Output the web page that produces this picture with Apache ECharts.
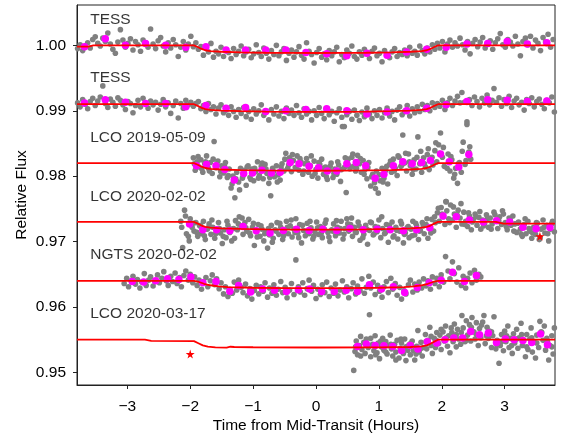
<!DOCTYPE html>
<html><head><meta charset="utf-8">
<script src="https://cdn.jsdelivr.net/npm/echarts@6/dist/echarts.min.js"></script>
<style>html,body{margin:0;padding:0;background:#fff}#c{width:563px;height:436px}</style>
</head><body><div id="c"></div>
<script>
const xTicks = [-3,-2,-1,0,1,2,3];
const yTicks = [0.95,0.96,0.97,0.98,0.99,1.00];
const xRange = [-3.8, 3.8];
const yRange = [0.94807, 1.00617];

const labelNames = ['TESS','TESS','LCO 2019-05-09','LCO 2020-02-02','NGTS 2020-02-02','LCO 2020-03-17'];
const labelT = [-3.59,-3.59,-3.59,-3.59,-3.59,-3.59];
const labelF = [1.00388,0.99502,0.98585,0.97684,0.96798,0.95897];

const starT = [-2.0, 3.56];
const starF = [0.9528, 0.9708];

// model curves
const tess1ModelT = [-3.8,-3.62,-3.54,-1.94,-1.88,-1.82,-1.76,-1.68,-1.5,-1.2,-0.8,-0.4,0,0.4,0.8,1.2,1.5,1.68,1.76,1.82,1.88,1.94,3.8];
const tess1ModelF = [0.9998,0.9998,1.0000,1.0000,0.99975,0.99945,0.99925,0.99912,0.99902,0.99893,0.99887,0.99884,0.99883,0.99884,0.99887,0.99893,0.99902,0.99912,0.99925,0.99945,0.99975,1.0000,1.0000];
const tess2ModelT = [-3.8,-1.94,-1.88,-1.82,-1.76,-1.68,-1.5,-1.2,-0.8,-0.4,0,0.4,0.8,1.2,1.5,1.68,1.76,1.82,1.88,1.94,3.8];
const tess2ModelF = [0.9910,0.9910,0.99075,0.99045,0.99025,0.99012,0.99002,0.98993,0.98987,0.98984,0.98983,0.98984,0.98987,0.98993,0.99002,0.99012,0.99025,0.99045,0.99075,0.9910,0.9910];
const lco19ModelT = [-3.8,-1.94,-1.88,-1.82,-1.76,-1.68,-1.5,-1.2,-0.8,-0.4,0,0.4,0.8,1.2,1.5,1.68,1.76,1.82,1.88,1.94,3.8];
const lco19ModelF = [0.9820,0.9820,0.98175,0.98145,0.98125,0.98112,0.98102,0.98093,0.98087,0.98084,0.98083,0.98084,0.98087,0.98093,0.98102,0.98112,0.98125,0.98145,0.98175,0.9820,0.9820];
const lco20ModelT = [-3.8,-1.94,-1.88,-1.82,-1.76,-1.68,-1.5,-1.2,-0.8,-0.4,0,0.4,0.8,1.2,1.5,1.68,1.76,1.82,1.88,1.94,2.86,2.98,3.8];
const lco20ModelF = [0.9730,0.9730,0.97275,0.97245,0.97225,0.97212,0.97202,0.97193,0.97187,0.97184,0.97183,0.97184,0.97187,0.97193,0.97202,0.97212,0.97225,0.97245,0.97275,0.9730,0.9730,0.97275,0.97275];
const ngtsModelT = [-3.8,-1.94,-1.86,-1.78,-1.68,-1.55,-1.4,-1.0,-0.5,0,0.5,1.0,1.4,1.55,1.68,1.78,1.86,1.94,3.8];
const ngtsModelF = [0.9640,0.9640,0.96382,0.96355,0.96332,0.96314,0.96303,0.96294,0.96289,0.96288,0.96289,0.96294,0.96303,0.96314,0.96332,0.96355,0.96382,0.9640,0.9640];
const lco2003ModelT = [-3.8,-2.72,-2.62,-1.94,-1.87,-1.8,-1.72,-1.6,-1.42,-1.36,-1.3,-1.0,0,1.0,1.5,1.68,1.76,1.82,1.88,1.94,3.8];
const lco2003ModelF = [0.9550,0.9550,0.95482,0.95478,0.95445,0.95412,0.95393,0.95382,0.95377,0.95392,0.95388,0.95384,0.95380,0.95382,0.95388,0.95398,0.95412,0.95438,0.95470,0.9550,0.9550];

// binned points
const tess1BinT = [-3.68,-3.35,-3.03,-2.71,-2.39,-2.07,-1.75,-1.43,-1.12,-0.80,-0.48,-0.16,0.17,0.49,0.81,1.13,1.44,1.76,2.07,2.40,2.73,3.04,3.36,3.67];
const tess1BinF = [0.9998,1.0010,1.0000,1.0003,1.0000,0.9997,0.9998,0.9993,0.9993,0.9993,0.9993,0.9989,0.9987,0.9984,0.9988,0.9985,0.9990,0.9994,0.9997,1.0002,1.0003,1.0006,1.0002,1.0004];
const tess2BinT = [-3.68,-3.35,-3.03,-2.71,-2.39,-2.07,-1.75,-1.43,-1.12,-0.80,-0.48,-0.16,0.17,0.49,0.81,1.13,1.44,1.76,2.07,2.40,2.73,3.04,3.36,3.67];
const tess2BinF = [0.9912,0.9917,0.9913,0.9911,0.9911,0.9906,0.9908,0.9904,0.9905,0.9899,0.9900,0.9902,0.9903,0.9900,0.9895,0.9898,0.9900,0.9904,0.9909,0.9914,0.9917,0.9916,0.9914,0.9915];
const lco19BinT = [-1.90,-1.74,-1.59,-1.45,-1.30,-1.15,-1.01,-0.86,-0.71,-0.57,-0.41,-0.27,-0.11,0.04,0.18,0.33,0.49,0.64,0.79,0.94,1.08,1.23,1.38,1.53,1.68,1.82,1.98,2.12,2.27,2.43];
const lco19BinF = [0.9816,0.9818,0.9816,0.9810,0.9794,0.9804,0.9805,0.9809,0.9805,0.9806,0.9821,0.9819,0.9815,0.9813,0.9808,0.9808,0.9819,0.9821,0.9816,0.9797,0.9803,0.9816,0.9822,0.9819,0.9821,0.9824,0.9834,0.9822,0.9814,0.9833];
const lco20BinT = [-2.01,-1.80,-1.58,-1.37,-1.16,-0.95,-0.73,-0.52,-0.31,-0.11,0.11,0.33,0.54,0.75,0.97,1.18,1.39,1.60,1.81,2.02,2.23,2.44,2.66,2.87,3.08,3.29,3.50,3.72];
const lco20BinF = [0.9727,0.9718,0.9718,0.97165,0.9723,0.97165,0.9713,0.9717,0.9719,0.9717,0.9719,0.9717,0.9720,0.9718,0.9719,0.9718,0.97165,0.9718,0.9721,0.9739,0.9738,0.9733,0.9730,0.9732,0.9730,0.9722,0.97195,0.97215];
const ngtsBinT = [-2.92,-2.74,-2.55,-2.36,-2.18,-1.99,-1.80,-1.59,-1.37,-1.23,-1.04,-0.85,-0.66,-0.47,-0.28,-0.10,0.09,0.29,0.48,0.66,0.85,1.04,1.23,1.41,1.61,1.80,1.99,2.17,2.36,2.55];
const ngtsBinF = [0.9639,0.9638,0.9640,0.9643,0.9642,0.9646,0.9637,0.9639,0.9624,0.9633,0.9623,0.96275,0.96254,0.96238,0.96264,0.96275,0.96238,0.96238,0.96254,0.96238,0.96341,0.96275,0.96310,0.96223,0.96299,0.9637,0.9641,0.9653,0.9639,0.9648];
const lco2003BinT = [0.66,0.80,0.94,1.08,1.22,1.36,1.50,1.62,1.77,1.92,2.05,2.19,2.33,2.46,2.60,2.74,2.87,3.01,3.15,3.29,3.43,3.57,3.68];
const lco2003BinF = [0.95397,0.95434,0.95412,0.95408,0.95397,0.95336,0.95412,0.95357,0.95469,0.95449,0.95500,0.95526,0.95526,0.95626,0.95576,0.95602,0.95458,0.95510,0.95500,0.95489,0.95458,0.95587,0.95423];

// raw photometry (grey)
const tess1Gray = [[-3.79,0.9995],[-3.75,1.0001],[-3.71,0.9992],[-3.67,0.9998],[-3.63,1.0004],[-3.59,0.9996],[-3.55,1.0009],[-3.51,1.0013],[-3.47,1.0003],[-3.43,0.9999],[-3.39,1.0011],[-3.35,1.0006],[-3.31,1.0019],[-3.27,1.0002],[-3.23,0.9994],[-3.19,0.9988],[-3.15,1.0005],[-3.11,1.0024],[-3.07,1.0008],[-3.03,0.9997],[-2.99,1.0003],[-2.95,1.0010],[-2.91,0.9993],[-2.87,1.0006],[-2.83,1.0001],[-2.79,0.9991],[-2.75,1.0008],[-2.71,1.0004],[-2.67,0.9997],[-2.63,1.0025],[-2.59,1.0002],[-2.55,0.9995],[-2.51,1.0007],[-2.47,1.0012],[-2.43,0.9999],[-2.39,0.9990],[-2.35,1.0004],[-2.31,0.9996],[-2.27,1.0009],[-2.23,1.0001],[-2.19,0.9983],[-2.15,0.9997],[-2.11,1.0006],[-2.07,0.9993],[-2.03,1.0002],[-1.99,1.0014],[-1.95,0.9998],[-1.91,1.0004],[-1.87,0.9994],[-1.83,0.9998],[-1.79,0.9985],[-1.75,0.9996],[-1.71,0.9990],[-1.67,1.0003],[-1.63,0.9982],[-1.59,0.9991],[-1.55,0.9987],[-1.51,0.9997],[-1.47,0.9983],[-1.43,0.9992],[-1.39,0.9989],[-1.35,0.9980],[-1.31,0.9995],[-1.27,0.9986],[-1.23,0.9991],[-1.19,0.9999],[-1.15,0.9984],[-1.11,0.9990],[-1.07,0.9994],[-1.03,0.9981],[-0.99,0.9987],[-0.95,1.0001],[-0.91,0.9989],[-0.87,0.9983],[-0.83,0.9996],[-0.79,0.9988],[-0.75,0.9979],[-0.71,0.9992],[-0.67,0.9986],[-0.63,1.0000],[-0.59,0.9984],[-0.55,0.9990],[-0.51,0.9995],[-0.47,0.9977],[-0.43,0.9988],[-0.39,0.9993],[-0.35,0.9982],[-0.31,0.9990],[-0.27,0.9998],[-0.23,0.9985],[-0.19,0.9979],[-0.15,1.0004],[-0.11,0.9991],[-0.07,0.9986],[-0.03,0.9973],[0.01,0.9989],[0.05,0.9995],[0.09,0.9982],[0.13,0.9987],[0.17,0.9978],[0.21,0.9992],[0.25,0.9984],[0.29,0.9990],[0.33,0.9997],[0.37,0.9975],[0.41,0.9986],[0.45,0.9981],[0.49,0.9993],[0.53,0.9988],[0.57,0.9999],[0.61,0.9983],[0.65,0.9979],[0.69,0.9990],[0.73,0.9985],[0.77,0.9994],[0.81,0.9987],[0.85,0.9980],[0.89,0.9991],[0.93,0.9996],[0.97,0.9984],[1.01,0.9988],[1.05,0.9975],[1.09,0.9992],[1.13,0.9986],[1.17,0.9981],[1.21,0.9990],[1.25,0.9995],[1.29,0.9983],[1.33,0.9989],[1.37,0.9986],[1.41,0.9993],[1.45,0.9984],[1.49,0.9997],[1.53,0.9988],[1.57,0.9991],[1.61,0.9985],[1.65,0.9999],[1.69,0.9992],[1.73,0.9987],[1.77,0.9996],[1.81,0.9990],[1.85,1.0001],[1.89,0.9994],[1.93,1.0003],[1.97,0.9996],[2.01,1.0006],[2.05,0.9990],[2.09,1.0002],[2.13,1.0008],[2.17,0.9997],[2.21,1.0004],[2.25,0.9999],[2.29,1.0011],[2.33,1.0001],[2.37,0.9993],[2.41,1.0006],[2.45,0.9987],[2.49,1.0003],[2.53,1.0009],[2.57,0.9998],[2.61,1.0005],[2.65,1.0012],[2.69,0.9996],[2.73,1.0002],[2.77,1.0007],[2.81,0.9994],[2.85,1.0004],[2.89,1.0010],[2.93,1.0018],[2.97,1.0001],[3.01,0.9997],[3.05,1.0009],[3.09,1.0005],[3.13,0.9999],[3.17,1.0014],[3.21,1.0002],[3.25,0.9984],[3.29,1.0006],[3.33,1.0011],[3.37,1.0001],[3.41,1.0014],[3.45,0.9996],[3.49,1.0008],[3.53,1.0003],[3.57,0.9992],[3.61,1.0012],[3.65,1.0005],[3.69,1.0017],[3.73,0.9997],[3.77,1.0009]];
const tess2Gray = [[-3.79,0.9912],[-3.75,0.9906],[-3.71,0.9917],[-3.67,0.9910],[-3.63,0.9903],[-3.59,0.9914],[-3.55,0.9919],[-3.51,0.9908],[-3.47,0.9915],[-3.43,0.9921],[-3.39,0.9938],[-3.35,0.9911],[-3.31,0.9905],[-3.27,0.9918],[-3.23,0.9913],[-3.19,0.9907],[-3.15,0.9920],[-3.11,0.9916],[-3.07,0.9909],[-3.03,0.9902],[-2.99,0.9914],[-2.95,0.9911],[-2.91,0.9897],[-2.87,0.9908],[-2.83,0.9916],[-2.79,0.9906],[-2.75,0.9919],[-2.71,0.9912],[-2.67,0.9904],[-2.63,0.9915],[-2.59,0.9909],[-2.55,0.9913],[-2.51,0.9901],[-2.47,0.9910],[-2.43,0.9917],[-2.39,0.9906],[-2.35,0.9912],[-2.31,0.9896],[-2.27,0.9908],[-2.23,0.9915],[-2.19,0.9889],[-2.15,0.9911],[-2.11,0.9904],[-2.07,0.9916],[-2.03,0.9909],[-1.99,0.9913],[-1.95,0.9907],[-1.91,0.9911],[-1.87,0.9914],[-1.83,0.9903],[-1.79,0.9908],[-1.75,0.9899],[-1.71,0.9911],[-1.67,0.9902],[-1.63,0.9906],[-1.59,0.9895],[-1.55,0.9904],[-1.51,0.9909],[-1.47,0.9897],[-1.43,0.9901],[-1.39,0.9893],[-1.35,0.9906],[-1.31,0.9899],[-1.27,0.9890],[-1.23,0.9902],[-1.19,0.9896],[-1.15,0.9905],[-1.11,0.9891],[-1.07,0.9899],[-1.03,0.9887],[-0.99,0.9903],[-0.95,0.9895],[-0.91,0.9900],[-0.87,0.9909],[-0.83,0.9893],[-0.79,0.9898],[-0.75,0.9886],[-0.71,0.9902],[-0.67,0.9895],[-0.63,0.9906],[-0.59,0.9892],[-0.55,0.9899],[-0.51,0.9888],[-0.47,0.9904],[-0.43,0.9896],[-0.39,0.9901],[-0.35,0.9893],[-0.31,0.9908],[-0.27,0.9897],[-0.23,0.9890],[-0.19,0.9903],[-0.15,0.9895],[-0.11,0.9899],[-0.07,0.9886],[-0.03,0.9900],[0.01,0.9893],[0.05,0.9905],[0.09,0.9896],[0.13,0.9888],[0.17,0.9902],[0.21,0.9894],[0.25,0.9899],[0.29,0.9884],[0.33,0.9897],[0.37,0.9903],[0.41,0.9890],[0.45,0.9876],[0.49,0.9894],[0.53,0.9899],[0.57,0.9887],[0.61,0.9901],[0.65,0.9893],[0.69,0.9885],[0.73,0.9898],[0.77,0.9891],[0.81,0.9904],[0.85,0.9895],[0.89,0.9888],[0.93,0.9900],[0.97,0.9893],[1.01,0.9902],[1.05,0.9889],[1.09,0.9897],[1.13,0.9904],[1.17,0.9892],[1.21,0.9899],[1.25,0.9886],[1.29,0.9901],[1.33,0.9906],[1.37,0.9894],[1.41,0.9899],[1.45,0.9908],[1.49,0.9892],[1.53,0.9903],[1.57,0.9897],[1.61,0.9906],[1.65,0.9899],[1.69,0.9910],[1.73,0.9902],[1.77,0.9908],[1.81,0.9900],[1.85,0.9912],[1.89,0.9905],[1.93,0.9911],[1.97,0.9907],[2.01,0.9916],[2.05,0.9902],[2.09,0.9912],[2.13,0.9919],[2.17,0.9908],[2.21,0.9915],[2.25,0.9922],[2.29,0.9912],[2.32,0.9928],[2.36,0.9913],[2.40,0.9883],[2.44,0.9917],[2.48,0.9908],[2.52,0.9921],[2.56,0.9914],[2.60,0.9906],[2.64,0.9919],[2.68,0.9912],[2.72,0.9924],[2.76,0.9909],[2.80,0.9916],[2.83,0.9934],[2.87,0.9913],[2.91,0.9920],[2.95,0.9907],[2.99,0.9917],[3.03,0.9911],[3.07,0.9922],[3.11,0.9905],[3.15,0.9915],[3.19,0.9919],[3.23,0.9909],[3.27,0.9913],[3.31,0.9901],[3.35,0.9917],[3.39,0.9911],[3.43,0.9920],[3.47,0.9906],[3.51,0.9914],[3.55,0.9918],[3.59,0.9910],[3.63,0.9903],[3.67,0.9916],[3.71,0.9912],[3.75,0.9921],[3.79,0.9898]];
const lco19Gray = [[-1.95,0.9828],[-1.92,0.9809],[-1.89,0.9822],[-1.86,0.9814],[-1.83,0.9825],[-1.80,0.9806],[-1.77,0.9819],[-1.74,0.9831],[-1.71,0.9812],[-1.68,0.9821],[-1.65,0.9804],[-1.62,0.9853],[-1.59,0.9813],[-1.56,0.9823],[-1.53,0.9799],[-1.50,0.9816],[-1.47,0.9805],[-1.44,0.9821],[-1.41,0.9798],[-1.38,0.9811],[-1.35,0.9782],[-1.32,0.9800],[-1.29,0.9767],[-1.26,0.9806],[-1.23,0.9791],[-1.20,0.9812],[-1.17,0.9797],[-1.14,0.9809],[-1.11,0.9786],[-1.08,0.9816],[-1.05,0.9798],[-1.02,0.9811],[-0.99,0.9793],[-0.96,0.9807],[-0.93,0.9822],[-0.90,0.9801],[-0.87,0.9815],[-0.84,0.9796],[-0.81,0.9818],[-0.78,0.9804],[-0.75,0.9789],[-0.72,0.9770],[-0.69,0.9812],[-0.66,0.9799],[-0.63,0.9816],[-0.60,0.9802],[-0.57,0.9794],[-0.54,0.9819],[-0.51,0.9808],[-0.48,0.9835],[-0.45,0.9812],[-0.42,0.9828],[-0.39,0.9807],[-0.36,0.9824],[-0.33,0.9813],[-0.30,0.9831],[-0.27,0.9809],[-0.24,0.9822],[-0.21,0.9803],[-0.18,0.9819],[-0.15,0.9827],[-0.12,0.9806],[-0.09,0.9816],[-0.06,0.9800],[-0.03,0.9823],[0.00,0.9810],[0.03,0.9797],[0.06,0.9818],[0.09,0.9826],[0.12,0.9803],[0.15,0.9814],[0.18,0.9795],[0.21,0.9809],[0.24,0.9820],[0.27,0.9798],[0.30,0.9811],[0.33,0.9803],[0.36,0.9817],[0.39,0.9792],[0.42,0.9876],[0.45,0.9813],[0.48,0.9775],[0.51,0.9826],[0.54,0.9811],[0.57,0.9829],[0.60,0.9815],[0.63,0.9808],[0.66,0.9832],[0.69,0.9819],[0.72,0.9806],[0.75,0.9824],[0.78,0.9810],[0.81,0.9796],[0.84,0.9821],[0.87,0.9785],[0.90,0.9803],[0.93,0.9790],[0.96,0.9808],[0.99,0.9774],[1.02,0.9793],[1.05,0.9812],[1.08,0.9797],[1.11,0.9809],[1.14,0.9788],[1.17,0.9818],[1.20,0.9806],[1.23,0.9826],[1.26,0.9812],[1.29,0.9801],[1.32,0.9829],[1.35,0.9815],[1.38,0.9863],[1.41,0.9820],[1.44,0.9808],[1.47,0.9834],[1.50,0.9816],[1.53,0.9803],[1.56,0.9825],[1.59,0.9811],[1.62,0.9860],[1.65,0.9819],[1.68,0.9806],[1.71,0.9828],[1.74,0.9814],[1.77,0.9833],[1.80,0.9810],[1.83,0.9826],[1.86,0.9817],[1.89,0.9839],[1.92,0.9822],[1.95,0.9848],[1.98,0.9866],[2.01,0.9829],[2.04,0.9815],[2.07,0.9761],[2.10,0.9834],[2.13,0.9808],[2.16,0.9825],[2.19,0.9797],[2.22,0.9812],[2.25,0.9789],[2.28,0.9821],[2.31,0.9806],[2.34,0.9852],[2.37,0.9818],[2.40,0.9879],[2.43,0.9837],[2.46,0.9826]];
const lco19GrayB = [[-1.935,0.9819],[-1.875,0.9830],[-1.815,0.9811],[-1.755,0.9822],[-1.695,0.9808],[-1.635,0.9826],[-1.575,0.9818],[-1.515,0.9807],[-1.455,0.9815],[-1.395,0.9801],[-1.335,0.9788],[-1.275,0.9796],[-1.215,0.9779],[-1.155,0.9801],[-1.095,0.9814],[-1.035,0.9795],[-0.975,0.9812],[-0.915,0.9797],[-0.855,0.9820],[-0.795,0.9811],[-0.735,0.9798],[-0.675,0.9807],[-0.615,0.9791],[-0.555,0.9814],[-0.495,0.9826],[-0.435,0.9817],[-0.375,0.9833],[-0.315,0.9812],[-0.255,0.9827],[-0.195,0.9808],[-0.135,0.9820],[-0.075,0.9831],[-0.015,0.9804],[0.045,0.9821],[0.105,0.9812],[0.165,0.9799],[0.225,0.9815],[0.285,0.9804],[0.345,0.9822],[0.405,0.9810],[0.465,0.9828],[0.525,0.9816],[0.585,0.9834],[0.645,0.9812],[0.705,0.9827],[0.765,0.9803],[0.825,0.9813],[0.885,0.9799],[0.945,0.9781],[1.005,0.9802],[1.065,0.9791],[1.125,0.9815],[1.185,0.9823],[1.245,0.9808],[1.305,0.9831],[1.365,0.9817],[1.425,0.9835],[1.485,0.9822],[1.545,0.9810],[1.605,0.9829],[1.665,0.9838],[1.725,0.9819],[1.785,0.9842],[1.845,0.9829],[1.905,0.9851],[1.965,0.9835],[2.025,0.9844],[2.085,0.9812],[2.145,0.9830],[2.205,0.9803],[2.265,0.9819],[2.325,0.9838],[2.385,0.9824],[2.445,0.9845]];
const lco20Gray = [[-2.15,0.9731],[-2.12,0.9691],[-2.09,0.9748],[-2.06,0.9712],[-2.03,0.9708],[-2.00,0.9735],[-1.97,0.9722],[-1.94,0.9716],[-1.91,0.9729],[-1.88,0.9708],[-1.85,0.9724],[-1.82,0.9712],[-1.79,0.9731],[-1.76,0.9703],[-1.73,0.9719],[-1.70,0.9727],[-1.67,0.9711],[-1.64,0.9722],[-1.61,0.9705],[-1.58,0.9716],[-1.55,0.9729],[-1.52,0.9713],[-1.49,0.9697],[-1.46,0.9718],[-1.43,0.9706],[-1.40,0.9725],[-1.37,0.9714],[-1.34,0.9701],[-1.31,0.9720],[-1.28,0.9732],[-1.25,0.9718],[-1.22,0.9738],[-1.19,0.9724],[-1.16,0.9711],[-1.13,0.9729],[-1.10,0.9716],[-1.07,0.9734],[-1.04,0.9709],[-1.01,0.9722],[-0.98,0.9694],[-0.95,0.9715],[-0.92,0.9726],[-0.89,0.9708],[-0.86,0.9719],[-0.83,0.9701],[-0.80,0.9714],[-0.77,0.9690],[-0.74,0.9710],[-0.71,0.9725],[-0.68,0.9705],[-0.65,0.9718],[-0.62,0.9729],[-0.59,0.9711],[-0.56,0.9722],[-0.53,0.9703],[-0.50,0.9716],[-0.47,0.9731],[-0.44,0.9712],[-0.41,0.9724],[-0.38,0.9707],[-0.35,0.9719],[-0.32,0.9735],[-0.29,0.9713],[-0.26,0.9726],[-0.23,0.9698],[-0.20,0.9717],[-0.17,0.9709],[-0.14,0.9728],[-0.11,0.9712],[-0.08,0.9721],[-0.05,0.9704],[-0.02,0.9715],[0.01,0.9730],[0.04,0.9711],[0.07,0.9723],[0.10,0.9706],[0.13,0.9719],[0.16,0.9733],[0.19,0.9714],[0.22,0.9700],[0.25,0.9718],[0.28,0.9727],[0.31,0.9709],[0.34,0.9722],[0.37,0.9713],[0.40,0.9731],[0.43,0.9704],[0.46,0.9720],[0.49,0.9735],[0.52,0.9716],[0.55,0.9726],[0.58,0.9708],[0.61,0.9722],[0.64,0.9714],[0.67,0.9730],[0.70,0.9702],[0.73,0.9719],[0.76,0.9711],[0.79,0.9725],[0.82,0.9696],[0.85,0.9717],[0.88,0.9729],[0.91,0.9710],[0.94,0.9723],[0.97,0.9715],[1.00,0.9733],[1.03,0.9706],[1.06,0.9720],[1.09,0.9712],[1.12,0.9726],[1.15,0.9699],[1.18,0.9718],[1.21,0.9730],[1.24,0.9709],[1.27,0.9722],[1.30,0.9704],[1.33,0.9716],[1.36,0.9727],[1.39,0.9698],[1.42,0.9713],[1.45,0.9721],[1.48,0.9706],[1.51,0.9719],[1.54,0.9731],[1.57,0.9710],[1.60,0.9724],[1.63,0.9703],[1.66,0.9717],[1.69,0.9729],[1.72,0.9712],[1.75,0.9726],[1.78,0.9705],[1.81,0.9721],[1.84,0.9734],[1.87,0.9716],[1.90,0.9729],[1.93,0.9744],[1.96,0.9731],[1.99,0.9752],[2.02,0.9738],[2.05,0.9726],[2.08,0.9747],[2.11,0.9735],[2.14,0.9756],[2.17,0.9733],[2.20,0.9742],[2.23,0.9722],[2.26,0.9748],[2.29,0.9736],[2.32,0.9727],[2.35,0.9745],[2.38,0.9731],[2.41,0.9723],[2.44,0.9739],[2.47,0.9718],[2.50,0.9734],[2.53,0.9742],[2.56,0.9725],[2.59,0.9737],[2.62,0.9719],[2.65,0.9733],[2.68,0.9728],[2.71,0.9741],[2.74,0.9722],[2.77,0.9736],[2.80,0.9727],[2.83,0.9745],[2.86,0.9731],[2.89,0.9720],[2.92,0.9738],[2.95,0.9726],[2.98,0.9742],[3.01,0.9729],[3.04,0.9718],[3.07,0.9736],[3.10,0.9725],[3.13,0.9739],[3.16,0.9727],[3.19,0.9714],[3.22,0.9730],[3.25,0.9719],[3.28,0.9708],[3.31,0.9726],[3.34,0.9712],[3.37,0.9731],[3.40,0.9716],[3.43,0.9705],[3.46,0.9722],[3.49,0.9711],[3.52,0.9728],[3.55,0.9703],[3.58,0.9719],[3.61,0.9733],[3.64,0.9713],[3.67,0.9725],[3.70,0.9701],[3.73,0.9719],[3.76,0.9731],[3.79,0.9715]];
const lco20GrayB = [[-2.135,0.9722],[-2.075,0.9739],[-2.015,0.9701],[-1.955,0.9728],[-1.895,0.9714],[-1.835,0.9725],[-1.775,0.9709],[-1.715,0.9721],[-1.655,0.9733],[-1.595,0.9712],[-1.535,0.9720],[-1.475,0.9708],[-1.415,0.9731],[-1.355,0.9719],[-1.295,0.9705],[-1.235,0.9727],[-1.175,0.9736],[-1.115,0.9721],[-1.055,0.9713],[-0.995,0.9728],[-0.935,0.9707],[-0.875,0.9724],[-0.815,0.9712],[-0.755,0.9720],[-0.695,0.9699],[-0.635,0.9716],[-0.575,0.9728],[-0.515,0.9709],[-0.455,0.9722],[-0.395,0.9733],[-0.335,0.9714],[-0.275,0.9706],[-0.215,0.9725],[-0.155,0.9716],[-0.095,0.9731],[-0.035,0.9708],[0.025,0.9721],[0.085,0.9713],[0.145,0.9728],[0.205,0.9707],[0.265,0.9716],[0.325,0.9732],[0.385,0.9720],[0.445,0.9711],[0.505,0.9727],[0.565,0.9736],[0.625,0.9715],[0.685,0.9724],[0.745,0.9706],[0.805,0.9719],[0.865,0.9730],[0.925,0.9712],[0.985,0.9722],[1.045,0.9738],[1.105,0.9714],[1.165,0.9725],[1.225,0.9707],[1.285,0.9717],[1.345,0.9731],[1.405,0.9711],[1.465,0.9723],[1.525,0.9709],[1.585,0.9728],[1.645,0.9716],[1.705,0.9724],[1.765,0.9735],[1.825,0.9713],[1.885,0.9738],[1.945,0.9751],[2.005,0.9742],[2.065,0.9761],[2.125,0.9729],[2.185,0.9753],[2.245,0.9740],[2.305,0.9758],[2.365,0.9726],[2.425,0.9744],[2.485,0.9730],[2.545,0.9738],[2.605,0.9746],[2.665,0.9724],[2.725,0.9735],[2.785,0.9719],[2.845,0.9741],[2.905,0.9732],[2.965,0.9747],[3.025,0.9723],[3.085,0.9734],[3.145,0.9716],[3.205,0.9728],[3.265,0.9711],[3.325,0.9735],[3.385,0.9720],[3.445,0.9713],[3.505,0.9729],[3.565,0.9706],[3.625,0.9722],[3.685,0.9712],[3.745,0.9727]];
const ngtsGray = [[-3.05,0.9636],[-3.01,0.9644],[-2.98,0.9631],[-2.94,0.9640],[-2.91,0.9647],[-2.87,0.9635],[-2.84,0.9642],[-2.80,0.9629],[-2.77,0.9638],[-2.73,0.9651],[-2.70,0.9633],[-2.66,0.9641],[-2.63,0.9646],[-2.59,0.9632],[-2.56,0.9639],[-2.52,0.9649],[-2.49,0.9637],[-2.45,0.9644],[-2.42,0.9654],[-2.38,0.9640],[-2.35,0.9633],[-2.31,0.9647],[-2.28,0.9639],[-2.24,0.9652],[-2.21,0.9636],[-2.17,0.9645],[-2.14,0.9631],[-2.10,0.9648],[-2.07,0.9655],[-2.03,0.9641],[-2.00,0.9650],[-1.96,0.9637],[-1.93,0.9646],[-1.89,0.9633],[-1.86,0.9641],[-1.82,0.9627],[-1.79,0.9638],[-1.75,0.9645],[-1.72,0.9631],[-1.68,0.9640],[-1.65,0.9649],[-1.61,0.9634],[-1.58,0.9643],[-1.54,0.9628],[-1.51,0.9637],[-1.47,0.9620],[-1.44,0.9631],[-1.40,0.9616],[-1.37,0.9627],[-1.33,0.9621],[-1.30,0.9638],[-1.26,0.9626],[-1.23,0.9641],[-1.19,0.9630],[-1.16,0.9622],[-1.12,0.9635],[-1.09,0.9617],[-1.05,0.9628],[-1.02,0.9612],[-0.98,0.9625],[-0.95,0.9633],[-0.91,0.9620],[-0.88,0.9631],[-0.84,0.9624],[-0.81,0.9637],[-0.77,0.9615],[-0.74,0.9629],[-0.70,0.9621],[-0.67,0.9634],[-0.63,0.9618],[-0.60,0.9627],[-0.56,0.9639],[-0.53,0.9622],[-0.49,0.9630],[-0.46,0.9614],[-0.42,0.9626],[-0.39,0.9636],[-0.35,0.9619],[-0.32,0.9672],[-0.28,0.9631],[-0.25,0.9623],[-0.21,0.9637],[-0.18,0.9618],[-0.14,0.9628],[-0.11,0.9641],[-0.07,0.9624],[-0.04,0.9633],[0.00,0.9613],[0.03,0.9627],[0.07,0.9619],[0.10,0.9634],[0.14,0.9622],[0.17,0.9638],[0.21,0.9616],[0.24,0.9629],[0.28,0.9621],[0.31,0.9635],[0.35,0.9617],[0.38,0.9626],[0.42,0.9640],[0.45,0.9623],[0.49,0.9631],[0.52,0.9614],[0.56,0.9628],[0.59,0.9637],[0.63,0.9620],[0.66,0.9632],[0.70,0.9625],[0.73,0.9643],[0.77,0.9621],[0.80,0.9630],[0.84,0.9647],[0.87,0.9629],[0.91,0.9638],[0.94,0.9619],[0.98,0.9633],[1.01,0.9624],[1.05,0.9615],[1.08,0.9631],[1.12,0.9639],[1.15,0.9622],[1.19,0.9644],[1.22,0.9627],[1.26,0.9636],[1.29,0.9618],[1.33,0.9630],[1.36,0.9612],[1.40,0.9625],[1.43,0.9620],[1.47,0.9634],[1.50,0.9641],[1.54,0.9623],[1.57,0.9635],[1.61,0.9626],[1.64,0.9638],[1.68,0.9629],[1.71,0.9643],[1.75,0.9632],[1.78,0.9640],[1.82,0.9627],[1.85,0.9646],[1.89,0.9636],[1.92,0.9644],[1.96,0.9631],[1.99,0.9649],[2.03,0.9638],[2.06,0.9677],[2.10,0.9655],[2.13,0.9643],[2.17,0.9669],[2.20,0.9651],[2.24,0.9638],[2.27,0.9660],[2.31,0.9633],[2.34,0.9647],[2.38,0.9629],[2.41,0.9644],[2.45,0.9652],[2.48,0.9637],[2.52,0.9656],[2.55,0.9641],[2.59,0.9650],[2.62,0.9646]];
const lco2003Gray = [[0.60,0.9503],[0.62,0.9532],[0.64,0.9548],[0.66,0.9527],[0.69,0.9541],[0.71,0.9555],[0.73,0.9535],[0.76,0.9546],[0.78,0.9529],[0.80,0.9551],[0.83,0.9538],[0.85,0.9588],[0.87,0.9524],[0.90,0.9543],[0.92,0.9533],[0.94,0.9556],[0.97,0.9530],[0.99,0.9545],[1.01,0.9521],[1.04,0.9539],[1.06,0.9552],[1.08,0.9534],[1.11,0.9547],[1.13,0.9528],[1.15,0.9541],[1.18,0.9557],[1.20,0.9536],[1.22,0.9525],[1.25,0.9543],[1.27,0.9531],[1.29,0.9549],[1.32,0.9522],[1.34,0.9537],[1.36,0.9545],[1.39,0.9529],[1.41,0.9551],[1.43,0.9518],[1.46,0.9534],[1.48,0.9542],[1.50,0.9527],[1.53,0.9548],[1.55,0.9533],[1.57,0.9519],[1.60,0.9540],[1.62,0.9564],[1.64,0.9531],[1.67,0.9546],[1.69,0.9525],[1.71,0.9538],[1.74,0.9558],[1.76,0.9536],[1.78,0.9549],[1.81,0.9569],[1.83,0.9541],[1.85,0.9529],[1.88,0.9552],[1.90,0.9538],[1.92,0.9561],[1.95,0.9544],[1.97,0.9557],[1.99,0.9535],[2.02,0.9562],[2.04,0.9548],[2.06,0.9571],[2.09,0.9540],[2.11,0.9556],[2.13,0.9530],[2.16,0.9561],[2.18,0.9547],[2.20,0.9574],[2.23,0.9539],[2.25,0.9566],[2.27,0.9551],[2.30,0.9543],[2.32,0.9587],[2.34,0.9568],[2.37,0.9547],[2.39,0.9579],[2.41,0.9557],[2.44,0.9573],[2.46,0.9548],[2.48,0.9584],[2.51,0.9562],[2.53,0.9551],[2.55,0.9576],[2.58,0.9541],[2.60,0.9567],[2.62,0.9553],[2.65,0.9577],[2.67,0.9587],[2.69,0.9544],[2.72,0.9569],[2.74,0.9552],[2.76,0.9563],[2.79,0.9538],[2.81,0.9556],[2.83,0.9585],[2.86,0.9536],[2.88,0.9549],[2.91,0.9514],[2.93,0.9541],[2.95,0.9558],[2.98,0.9533],[3.00,0.9563],[3.02,0.9547],[3.05,0.9571],[3.07,0.9538],[3.09,0.9552],[3.12,0.9529],[3.14,0.9559],[3.16,0.9545],[3.19,0.9566],[3.21,0.9537],[3.23,0.9553],[3.26,0.9575],[3.28,0.9541],[3.30,0.9549],[3.33,0.9524],[3.35,0.9558],[3.37,0.9535],[3.40,0.9551],[3.42,0.9568],[3.44,0.9531],[3.47,0.9546],[3.49,0.9522],[3.51,0.9557],[3.54,0.9538],[3.56,0.9578],[3.58,0.9562],[3.61,0.9549],[3.63,0.9571],[3.65,0.9534],[3.68,0.9547],[3.70,0.9519],[3.72,0.9541],[3.75,0.9556],[3.77,0.9528],[3.79,0.9568]];
const lco2003GrayB = [[0.63,0.9539],[0.71,0.9525],[0.79,0.9544],[0.87,0.9552],[0.95,0.9527],[1.03,0.9548],[1.11,0.9531],[1.19,0.9543],[1.27,0.9519],[1.35,0.9551],[1.43,0.9539],[1.51,0.9545],[1.59,0.9528],[1.67,0.9537],[1.75,0.9547],[1.83,0.9555],[1.91,0.9549],[1.99,0.9566],[2.07,0.9553],[2.15,0.9568],[2.23,0.9558],[2.31,0.9561],[2.39,0.9549],[2.47,0.9569],[2.55,0.9558],[2.63,0.9572],[2.71,0.9556],[2.79,0.9562],[2.87,0.9543],[2.95,0.9547],[3.03,0.9556],[3.11,0.9541],[3.19,0.9551],[3.27,0.9558],[3.35,0.9539],[3.43,0.9553],[3.51,0.9545],[3.59,0.9561],[3.67,0.9552],[3.75,0.9539]];

const zip = (a, b) => a.map((v, i) => [v, b[i]]);
const grays = [tess1Gray, tess2Gray, lco19Gray, lco19GrayB, lco20Gray, lco20GrayB, ngtsGray, lco2003Gray, lco2003GrayB];
const bins = [[tess1BinT,tess1BinF],[tess2BinT,tess2BinF],[lco19BinT,lco19BinF],[lco20BinT,lco20BinF],[ngtsBinT,ngtsBinF],[lco2003BinT,lco2003BinF]];
const models = [[tess1ModelT,tess1ModelF],[tess2ModelT,tess2ModelF],[lco19ModelT,lco19ModelF],[lco20ModelT,lco20ModelF],[ngtsModelT,ngtsModelF],[lco2003ModelT,lco2003ModelF]];

const FONT = 'Liberation Sans, Arial, sans-serif';
const FS = 15.5;
const series = [];
grays.forEach(g => series.push({type:'scatter', data:g, symbolSize:5.6, itemStyle:{color:'#808080', opacity:1}, z:1, silent:true}));
bins.forEach(b => series.push({type:'scatter', data:zip(b[0], b[1]), symbolSize:7.5, itemStyle:{color:'#ff00ff', opacity:1}, z:2, silent:true}));
models.forEach(m => series.push({type:'line', data:zip(m[0], m[1]), showSymbol:false, symbol:'none', lineStyle:{color:'#ff0000', width:1.8}, z:3, silent:true}));
series.push({type:'scatter', data:zip(starT, starF), symbol:'path://M50,0 L61,35 L98,35 L68,57 L79,91 L50,70 L21,91 L32,57 L2,35 L39,35 Z', symbolSize:9, itemStyle:{color:'#ff0000', opacity:1}, z:4, silent:true});
series.push({type:'scatter', data:labelT.map((t,i)=>({value:[t,labelF[i]], name:labelNames[i]})), symbolSize:0, z:5, silent:true,
  label:{show:true, formatter:p=>p.name, position:[0,0], align:'left', verticalAlign:'middle', color:'#000', fontSize:FS, fontFamily:FONT}});

const chart = echarts.init(document.getElementById('c'), null, {renderer:'canvas'});
chart.setOption({
  animation:false,
  backgroundColor:'#fff',
  grid:{left:77, right:8, top:5, bottom:51, containLabel:false, outerBoundsMode:'none', show:true, borderColor:'#222', borderWidth:1, backgroundColor:'transparent'},
  xAxis:{type:'value', min:xRange[0], max:xRange[1],
    name:'Time from Mid-Transit (Hours)', nameLocation:'middle', nameGap:33, nameMoveOverlap:false,
    nameTextStyle:{color:'#000', fontSize:FS, fontFamily:FONT},
    axisLine:{show:true, onZero:false, lineStyle:{color:'#222', width:1}},
    axisTick:{show:true, inside:false, length:4, customValues:xTicks, lineStyle:{color:'#222'}},
    axisLabel:{show:true, customValues:xTicks, margin:14, color:'#000', fontSize:FS, fontFamily:FONT,
      formatter:v => v < 0 ? '\u2212' + Math.abs(v) : String(v)},
    splitLine:{show:false}},
  yAxis:{type:'value', min:yRange[0], max:yRange[1],
    name:'Relative Flux', nameLocation:'middle', nameGap:47, nameRotate:90, nameMoveOverlap:false,
    nameTextStyle:{color:'#000', fontSize:FS, fontFamily:FONT},
    axisLine:{show:true, onZero:false, lineStyle:{color:'#222', width:1}},
    axisTick:{show:true, inside:false, length:4, customValues:yTicks, lineStyle:{color:'#222'}},
    axisLabel:{show:true, customValues:yTicks, margin:11, color:'#000', fontSize:FS, fontFamily:FONT,
      formatter:v => v.toFixed(2)},
    splitLine:{show:false}},
  series:series
});
</script>
</body></html>
